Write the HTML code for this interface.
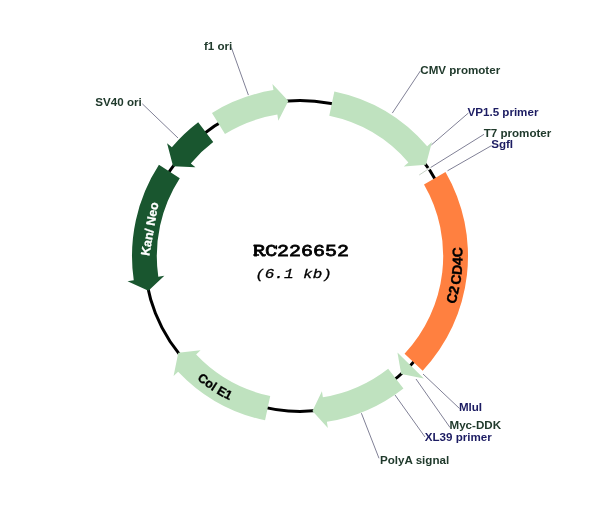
<!DOCTYPE html>
<html><head><meta charset="utf-8"><style>
html,body{margin:0;padding:0;background:#fff;width:600px;height:512px;overflow:hidden}
svg{display:block;will-change:transform}
.lb{font-family:"Liberation Sans",sans-serif;font-weight:bold;font-size:11.6px}
.in{font-family:"Liberation Sans",sans-serif;font-weight:bold;font-size:12px}
.t1{font-family:"Liberation Mono",monospace;font-weight:normal;font-size:20px}
.t2{font-family:"Liberation Mono",monospace;font-style:italic;font-size:16px}
</style></head><body>
<svg width="600" height="512" viewBox="0 0 600 512">
<circle cx="300.0" cy="256.0" r="155.5" fill="none" stroke="#000" stroke-width="3"/>
<line x1="231.4" y1="47.6" x2="248.4" y2="95.1" stroke="#808096" stroke-width="1"/>
<line x1="142.3" y1="103.8" x2="178" y2="138" stroke="#808096" stroke-width="1"/>
<line x1="420.4" y1="70.9" x2="392.3" y2="113.1" stroke="#808096" stroke-width="1"/>
<line x1="468.4" y1="113.0" x2="431.3" y2="145" stroke="#808096" stroke-width="1"/>
<line x1="484.0" y1="134.3" x2="430.5" y2="167.6" stroke="#808096" stroke-width="1"/>
<line x1="491.5" y1="145.6" x2="447.5" y2="170.8" stroke="#808096" stroke-width="1"/>
<line x1="459.5" y1="408.5" x2="423" y2="374" stroke="#808096" stroke-width="1"/>
<line x1="450" y1="427.5" x2="416" y2="379" stroke="#808096" stroke-width="1"/>
<line x1="425" y1="437" x2="395" y2="395" stroke="#808096" stroke-width="1"/>
<line x1="379" y1="458.3" x2="361.4" y2="413.2" stroke="#808096" stroke-width="1"/>
<path d="M211.97,112.91 A168.0,168.0 0 0 1 273.43,90.11 L272.43,83.89 L288.34,100.94 L278.32,120.63 L277.35,114.60 A143.2,143.2 0 0 0 224.97,134.03 Z" fill="#bfe2bf"/>
<path d="M334.36,91.55 A168.0,168.0 0 0 1 427.18,146.23 L431.94,142.11 L425.96,164.82 L403.78,166.42 L408.40,162.43 A143.2,143.2 0 0 0 329.28,115.83 Z" fill="#bfe2bf"/>
<path d="M445.49,172.00 A168.0,168.0 0 0 1 422.67,370.79 L404.56,353.84 A143.2,143.2 0 0 0 424.01,184.40 Z" fill="#ff8040"/>
<path d="M423.89,378.60 L401.20,374.07 L397.45,352.44 Z" fill="#bfe2bf"/>
<path d="M403.43,388.39 A168.0,168.0 0 0 1 326.86,421.84 L327.87,428.06 L312.47,411.00 L321.92,391.34 L322.89,397.36 A143.2,143.2 0 0 0 388.16,368.84 Z" fill="#bfe2bf"/>
<path d="M265.07,420.33 A168.0,168.0 0 0 1 178.14,371.64 L173.57,375.98 L178.30,352.80 L200.55,350.37 L196.13,354.57 A143.2,143.2 0 0 0 270.23,396.07 Z" fill="#bfe2bf"/>
<path d="M158.94,164.75 A168.0,168.0 0 0 0 133.76,280.25 L127.53,281.16 L148.42,290.72 L164.34,275.79 L158.30,276.67 A143.2,143.2 0 0 1 179.77,178.22 Z" fill="#19562f"/>
<path d="M198.19,122.36 A168.0,168.0 0 0 0 171.87,147.34 L167.07,143.26 L173.09,166.14 L195.44,167.33 L190.79,163.38 A143.2,143.2 0 0 1 213.22,142.09 Z" fill="#19562f"/>
<line x1="430.5" y1="167.6" x2="419.2" y2="175" stroke="#fff" stroke-width="2"/>
<line x1="430.5" y1="167.6" x2="419.2" y2="175" stroke="#c8d4c8" stroke-width="1"/>
<text x="204.0" y="49.6" fill="#203a2c" class="lb">f1 ori</text>
<text x="95.3" y="105.8" fill="#203a2c" class="lb">SV40 ori</text>
<text x="420.3" y="74.2" fill="#203a2c" class="lb">CMV promoter</text>
<text x="467.5" y="115.8" fill="#1c1c62" class="lb">VP1.5 primer</text>
<text x="483.7" y="136.7" fill="#203a2c" class="lb">T7 promoter</text>
<text x="491.2" y="148.3" fill="#1c1c62" class="lb">SgfI</text>
<text x="458.9" y="411" fill="#1c1c62" class="lb">MluI</text>
<text x="449.5" y="428.5" fill="#203a2c" class="lb">Myc-DDK</text>
<text x="424.8" y="440.6" fill="#1c1c62" class="lb">XL39 primer</text>
<text x="380" y="464.2" fill="#203a2c" class="lb">PolyA signal</text>
<defs>
<path id="pk" d="M202.94,371.67 A151.0,151.0 0 0 1 248.35,114.11" fill="none"/>
<path id="pc" d="M363.23,405.69 A162.5,162.5 0 0 0 398.02,126.39" fill="none"/>
<path id="pe" d="M139.62,247.59 A160.6,160.6 0 0 0 372.91,399.10" fill="none"/>
</defs>
<text class="in" fill="#fff" style="font-size:12.5px" stroke="#fff" stroke-width="0.3" transform="translate(153.9,229.6) rotate(-80)" text-anchor="middle">Kan/ Neo</text>
<text class="in" fill="#000" style="font-size:14px;letter-spacing:0.1px" stroke="#000" stroke-width="0.35"><textPath href="#pc" startOffset="50%" text-anchor="middle">C2<tspan dx="1.6">CD4C</tspan></textPath></text>
<text class="in" fill="#000" style="font-size:12.5px" stroke="#000" stroke-width="0.3"><textPath href="#pe" startOffset="50%" text-anchor="middle">Col E1</textPath></text>
<text class="t1" transform="translate(301,255.9) scale(1,0.85)" text-anchor="middle" stroke="#000" stroke-width="0.9">RC226652</text>
<text class="t2" transform="translate(293.5,277.6) scale(1,0.8)" text-anchor="middle" fill="#000" stroke="#000" stroke-width="0.35">(6.1 kb)</text>
<g fill="#000"><rect x="253.3" y="244.8" width="1.5" height="1.5"/><rect x="253.3" y="254.2" width="5.8" height="1.6"/><rect x="263.2" y="254.2" width="2.8" height="1.6"/><rect x="275.6" y="245.3" width="1.5" height="4"/></g>
</svg>
</body></html>
